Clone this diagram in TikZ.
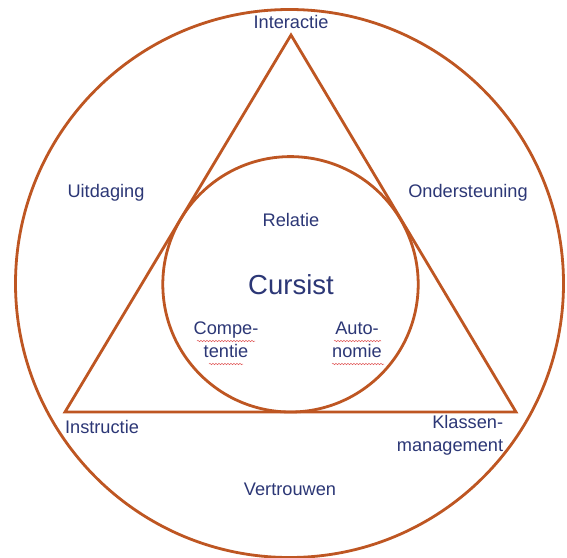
\documentclass[tikz,border=0pt]{standalone}
\usepackage{fontspec}
\setmainfont{Liberation Sans}
\usetikzlibrary{decorations.pathmorphing}
\definecolor{linec}{RGB}{190,86,34}
\definecolor{textc}{RGB}{44,55,118}
\definecolor{squig}{RGB}{225,90,90}
\begin{document}
\begin{tikzpicture}[x=1pt,y=-1pt,
  shape line/.style={draw=linec,line width=2.8pt},
  lbl/.style={text=textc,font=\fontsize{18.2}{23}\selectfont,inner sep=0pt,align=center},
  big/.style={text=textc,font=\fontsize{27.5}{32}\selectfont,inner sep=0pt},
  squiggle/.style={draw=squig,line width=0.5pt,decorate,decoration={snake,amplitude=0.7pt,segment length=3pt}}]
\useasboundingbox (0,0) rectangle (567,557);
\fill[white] (0,0) rectangle (567,557);
% outer circle
\coordinate (oc) at (289.5,283.5);
\draw[shape line] (oc) circle[radius=274];
% triangle
\coordinate (ta) at (291,35);
\coordinate (tl) at (65,412);
\coordinate (tr) at (516,412);
\draw[shape line,line join=miter] (ta) -- (tl) -- (tr) -- cycle;
% inner circle
\coordinate (ic) at (290.5,284.3);
\draw[shape line] (ic) circle[radius=127.7];
% labels
\node[lbl] (interactie) at (291,22) {Interactie};
\node[lbl] (uitdaging) at (106,193) {Uitdaging};
\node[lbl] (ondersteuning) at (468,193) {Ondersteuning};
\node[lbl] (relatie) at (291,220) {Relatie};
\node[big] (cursist) at (291,285) {Cursist};
\node[lbl] (competentie) at (226,340) {Compe-\\tentie};
\node[lbl] (autonomie) at (357,340) {Auto-\\nomie};
\node[lbl] (instructie) at (102,427) {Instructie};
\node[lbl,align=right] (klassen) at (450,435) {Klassen-\\management};
\node[lbl] (vertrouwen) at (290,489) {Vertrouwen};
% spell-check marks
\draw[squiggle] (197,341) -- (255,341);
\draw[squiggle] (209,364) -- (243,364);
\draw[squiggle] (334,341) -- (381,341);
\draw[squiggle] (332,364) -- (384,364);
\end{tikzpicture}
\end{document}
